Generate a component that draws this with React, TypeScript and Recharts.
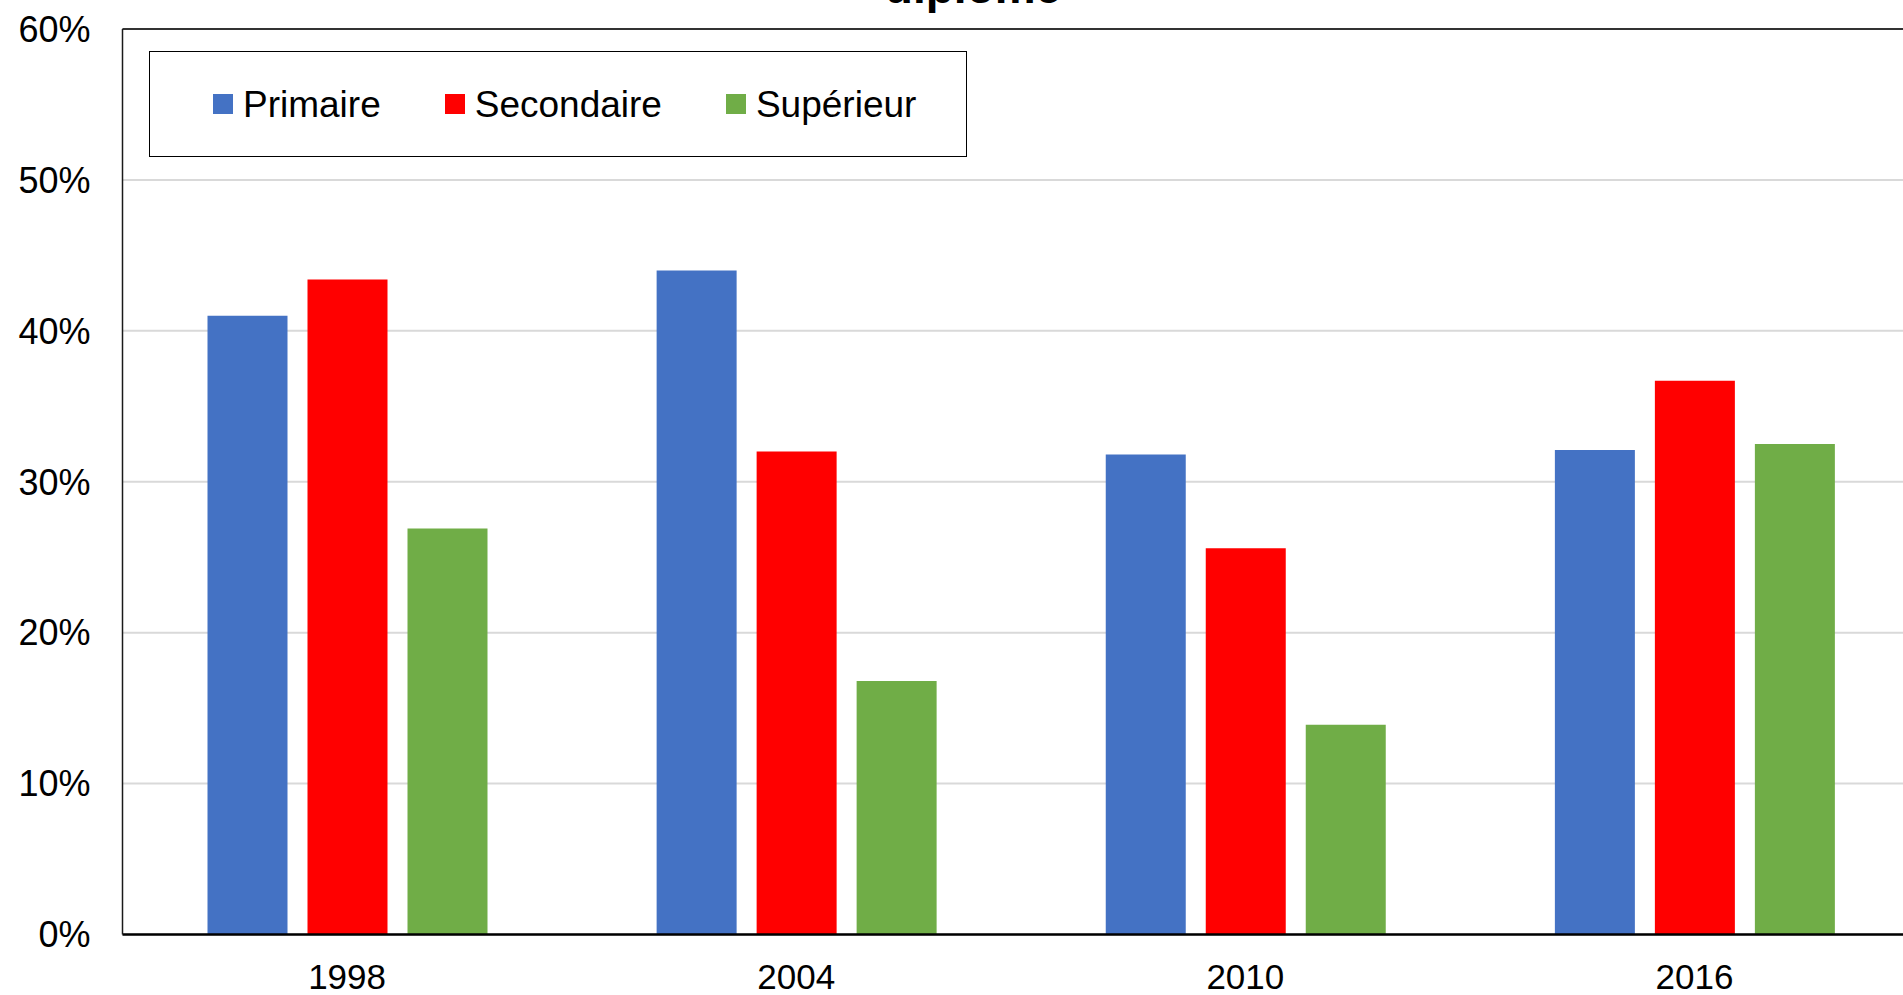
import React from 'react'
import { BarChart, Bar, XAxis, YAxis, CartesianGrid, Legend, ReferenceLine } from 'recharts'

const years = ['1998', '2004', '2010', '2016']
const primaire = [41.0, 44.0, 31.8, 32.1]
const secondaire = [43.4, 32.0, 25.6, 36.7]
const superieur = [26.9, 16.8, 13.9, 32.5]
const yTicks = [0, 10, 20, 30, 40, 50, 60]

const data = years.map((year, i) => ({
  year,
  Primaire: primaire[i],
  Secondaire: secondaire[i],
  Supérieur: superieur[i],
}))

const font = '"Liberation Sans", Arial, sans-serif'

function LegendBox({ payload }: any) {
  return (
    <div
      style={{
        display: 'flex',
        alignItems: 'center',
        height: '100%',
        paddingLeft: 63,
        boxSizing: 'border-box',
      }}
    >
      {(payload || []).map((item: any) => (
        <div key={item.value} style={{ display: 'flex', alignItems: 'center', marginRight: 64 }}>
          <span style={{ width: 20, height: 20, background: item.color, marginRight: 10, display: 'inline-block' }} />
          <span style={{ fontSize: 37, color: '#000', fontFamily: font, lineHeight: '37px' }}>{item.value}</span>
        </div>
      ))}
    </div>
  )
}

export default function App() {
  return (
    <div
      style={{
        position: 'absolute',
        left: 0,
        top: 0,
        width: 1903,
        height: 995,
        overflow: 'hidden',
        background: '#fff',
        fontFamily: font,
      }}
    >
      <div
        style={{
          position: 'absolute',
          left: 473,
          width: 1000,
          top: -35,
          textAlign: 'center',
          fontSize: 46,
          lineHeight: '44px',
          fontWeight: 'bold',
          color: '#000',
        }}
      >
        diplôme
      </div>
      <BarChart
        width={1960}
        height={995}
        data={data}
        margin={{ top: 29, right: 41, bottom: 0, left: 0 }}
        barSize={80}
        barGap={20}
      >
        <CartesianGrid vertical={false} stroke="#d9d9d9" strokeWidth={2} />
        <XAxis
          dataKey="year"
          height={60.5}
          tickLine={false}
          tickMargin={24}
          axisLine={{ stroke: '#000', strokeWidth: 2.5 }}
          tick={{ fill: '#000', fontSize: 35, fontFamily: font }}
        />
        <YAxis
          width={122.5}
          domain={[0, 60]}
          ticks={yTicks}
          tickFormatter={(v) => `${v}%`}
          tickLine={false}
          tickMargin={26}
          axisLine={{ stroke: '#1a1a1a', strokeWidth: 1.5 }}
          tick={{ fill: '#000', fontSize: 36, fontFamily: font }}
        />
        <ReferenceLine y={60} stroke="#333" strokeWidth={2} />
        <Legend
          layout="horizontal"
          verticalAlign="middle"
          align="center"
          content={<LegendBox />}
          wrapperStyle={{
            position: 'absolute',
            left: 149,
            top: 51,
            width: 818,
            height: 106,
            border: '1.5px solid #000',
            boxSizing: 'border-box',
            background: '#fff',
          }}
        />
        <Bar dataKey="Primaire" fill="#4472C4" isAnimationActive={false} />
        <Bar dataKey="Secondaire" fill="#FF0000" isAnimationActive={false} />
        <Bar dataKey="Supérieur" fill="#70AD47" isAnimationActive={false} />
      </BarChart>
    </div>
  )
}
